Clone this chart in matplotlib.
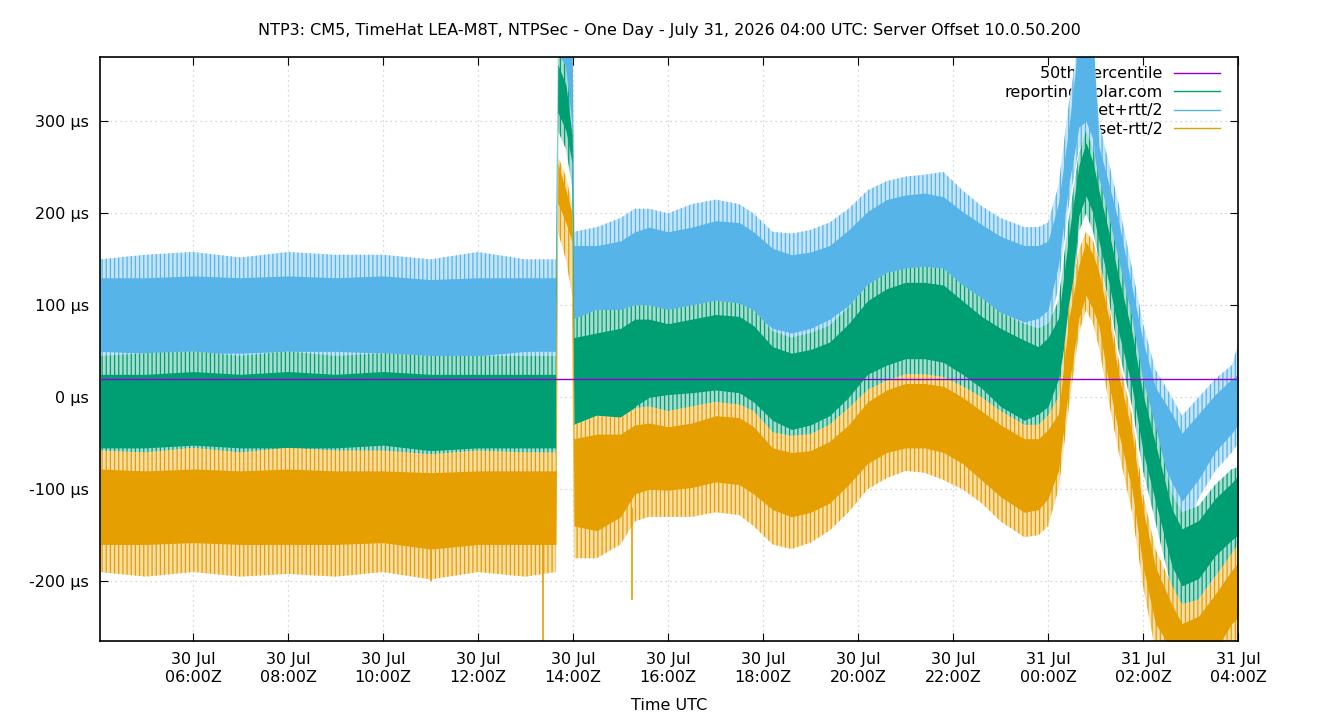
import numpy as np
import matplotlib.pyplot as plt
from matplotlib.lines import Line2D
from matplotlib.colors import to_rgb

# hours since 30 Jul 00:00 UTC
hours = [4.05, 5, 6, 7, 8, 9, 10, 11, 12, 13,
         13.64, 13.68, 13.85, 13.98,
         14.02, 14.5, 15.0, 15.3, 15.6, 16.0,
         16.5, 17.0, 17.5, 17.8, 18.2, 18.6, 19.0, 19.4, 19.8, 20.2,
         20.6, 21.0, 21.4, 21.8, 22.2, 22.6, 23.0, 23.5, 23.8, 24.0,
         24.22, 24.44, 24.65, 24.8, 24.95, 25.07, 25.28, 25.49, 25.77, 26.0,
         26.26, 26.61, 26.82, 27.17, 27.52, 27.87, 28.0]

# offset+rtt/2 (us): dense band and spike reach
plus_hi = [130, 130, 132, 130, 132, 130, 132, 128, 130, 130,
           130, 390, 390, 390,
           165, 165, 170, 180, 185, 180,
           185, 192, 190, 180, 162, 155, 158, 165, 182, 202,
           215, 220, 222, 218, 202, 188, 175, 165, 165, 170,
           211, 294, 390, 390, 390, 273, 232, 190, 119, 61,
           11, -18, -39, -18, 3, 20, 25]
plus_lo = [50, 48, 48, 48, 50, 50, 48, 42, 45, 50,
           50, 330, 320, 300,
           50, 55, 65, 85, 95, 90,
           95, 100, 100, 90, 75, 70, 75, 85, 100, 122,
           135, 140, 140, 135, 120, 105, 92, 82, 86, 95,
           144, 232, 294, 300, 280, 211, 161, 119, 44, 3,
           -55, -93, -113, -89, -59, -39, -30]
plus_max = [150, 155, 158, 152, 158, 155, 155, 150, 158, 150,
            150, 390, 390, 390,
            180, 185, 195, 205, 205, 200,
            210, 215, 210, 200, 180, 178, 182, 190, 205, 225,
            235, 240, 242, 245, 225, 208, 195, 185, 185, 190,
            230, 320, 390, 390, 390, 300, 255, 210, 140, 80,
            30, 0, -20, 0, 20, 35, 57]
plus_min = [15, 12, 18, 10, 15, 12, 12, 8, 12, 15,
            20, 300, 290, 260,
            20, 25, 30, 55, 65, 60,
            65, 70, 70, 60, 45, 40, 45, 55, 70, 95,
            108, 110, 110, 105, 90, 75, 62, 50, 55, 70,
            120, 210, 270, 280, 255, 190, 140, 95, 20, -20,
            -75, -115, -150, -110, -80, -60, -50]

# reporting.bolar.com offset (us)
off_hi = [25, 25, 28, 25, 28, 25, 28, 25, 25, 25,
          25, 362, 340, 285,
          65, 70, 75, 85, 85, 80,
          85, 90, 88, 78, 55, 48, 52, 60, 80, 105,
          118, 125, 125, 122, 105, 88, 75, 62, 55, 65,
          86, 177, 252, 277, 255, 225, 180, 130, 70, 3,
          -50, -122, -143, -134, -110, -93, -85]
off_lo = [-55, -55, -52, -55, -55, -55, -52, -58, -55, -55,
          -55, 310, 290, 255,
          -45, -40, -35, -10, 0, 3,
          5, 8, 5, -5, -25, -35, -30, -20, 0, 25,
          35, 42, 42, 38, 25, 10, -10, -25, -18, -10,
          20, 86, 198, 219, 200, 170, 125, 70, 11, -59,
          -113, -184, -205, -197, -172, -155, -150]
off_max = [45, 48, 50, 45, 50, 45, 48, 45, 45, 45,
           45, 375, 360, 300,
           85, 95, 95, 100, 100, 95,
           100, 105, 102, 95, 72, 65, 70, 78, 98, 122,
           135, 140, 142, 140, 122, 108, 92, 80, 75, 80,
           105, 195, 265, 290, 270, 240, 198, 150, 88, 20,
           -30, -105, -125, -118, -95, -78, -76]
off_min = [-80, -82, -78, -80, -82, -80, -80, -85, -82, -80,
           -75, 290, 270, 230,
           -75, -70, -65, -35, -25, -20,
           -20, -18, -20, -30, -50, -60, -55, -45, -25, 0,
           10, 15, 15, 10, 0, -15, -35, -50, -45, -35,
           0, 65, 180, 200, 180, 150, 105, 50, -10, -80,
           -135, -210, -255, -220, -195, -178, -170]

# offset-rtt/2 (us)
minus_hi = [-78, -80, -78, -80, -78, -80, -80, -82, -80, -80,
            -80, 255, 225, 200,
            -45, -40, -40, -30, -28, -32,
            -28, -20, -22, -32, -55, -60, -58, -48, -30, -5,
            8, 15, 15, 12, 0, -15, -30, -45, -45, -35,
            -18, 86, 144, 169, 155, 136, 86, 24, -39, -122,
            -184, -226, -246, -238, -214, -188, -180]
minus_lo = [-160, -160, -158, -160, -160, -160, -158, -165, -160, -160,
            -160, 211, 190, 169,
            -140, -145, -130, -105, -100, -101,
            -98, -92, -95, -105, -122, -130, -125, -115, -95, -72,
            -60, -55, -55, -60, -72, -90, -108, -125, -122, -110,
            -80, 11, 86, 111, 95, 78, 15, -39, -101, -184,
            -246, -275, -275, -275, -275, -246, -240]
minus_max = [-58, -60, -55, -60, -55, -58, -58, -62, -58, -60,
             -60, 262, 240, 210,
             -30, -20, -22, -12, -10, -15,
             -10, -5, -8, -15, -38, -42, -40, -30, -12, 8,
             18, 25, 25, 22, 12, 0, -15, -30, -30, -20,
             0, 100, 160, 180, 170, 150, 100, 40, -20, -105,
             -165, -205, -225, -220, -195, -170, -160]
minus_min = [-190, -195, -190, -195, -192, -195, -190, -198, -190, -195,
             -190, 180, 150, 110,
             -175, -175, -160, -135, -130, -130,
             -130, -125, -128, -140, -160, -165, -158, -145, -125, -100,
             -88, -80, -82, -90, -100, -115, -135, -152, -150, -140,
             -100, -10, 70, 95, 80, 55, -5, -60, -125, -205,
             -275, -275, -275, -275, -275, -275, -260]

# isolated deep dips of offset-rtt/2
dip_hours = [11.0, 13.37, 15.25]
dip_values = [-200, -275, -220]

percentile50 = 20

tick_hours = [6, 8, 10, 12, 14, 16, 18, 20, 22, 24, 26, 28]
tick_labels = ["30 Jul\n06:00Z", "30 Jul\n08:00Z", "30 Jul\n10:00Z", "30 Jul\n12:00Z",
               "30 Jul\n14:00Z", "30 Jul\n16:00Z", "30 Jul\n18:00Z", "30 Jul\n20:00Z",
               "30 Jul\n22:00Z", "31 Jul\n00:00Z", "31 Jul\n02:00Z", "31 Jul\n04:00Z"]
ytick_values = [-200, -100, 0, 100, 200, 300]

c_pct = '#9400d3'
c_off = '#009e73'
c_plus = '#56b4e9'
c_minus = '#e69f00'


def light(c, a=0.5):
    r = np.array(to_rgb(c))
    return tuple(1 - a * (1 - r))


plt.rcParams['hatch.linewidth'] = 0.9

fig = plt.figure(figsize=(13.4, 7.2), dpi=100)
ax = fig.add_axes([0.0746, 0.1097, 0.8493, 0.8111])

t = np.array(hours)
series = [(plus_min, plus_max, plus_lo, plus_hi, c_plus),
          (off_min, off_max, off_lo, off_hi, c_off),
          (minus_min, minus_max, minus_lo, minus_hi, c_minus)]
for smin, smax, lo, hi, col in series:
    ax.fill_between(t, smin, smax, facecolor=light(col, 0.35), edgecolor=col,
                    hatch='||||', lw=0, zorder=2)
    ax.fill_between(t, lo, hi, color=col, lw=0, zorder=2)

ax.vlines(dip_hours, -120, dip_values, color=c_minus, lw=1.2, zorder=2)
ax.axhline(percentile50, color=c_pct, lw=1, zorder=3)

ax.set_xlim(4.04, 28.0)
ax.set_ylim(-265, 370)
ax.set_xticks(tick_hours)
ax.set_xticklabels(tick_labels)
ax.set_yticks(ytick_values)
ax.set_yticklabels([f"{v} µs" for v in ytick_values])
ax.tick_params(direction='in', length=6, top=True, right=True, labelsize=11.5, pad=8)
ax.grid(True, color='#c8c8c8', linestyle=(0, (1, 3)), lw=0.9)
ax.set_axisbelow(True)
for s in ax.spines.values():
    s.set_linewidth(1.2)

ax.set_xlabel("Time UTC", fontsize=11.5, labelpad=10)
ax.set_title("NTP3: CM5, TimeHat LEA-M8T, NTPSec - One Day - July 31, 2026 04:00 UTC: Server Offset 10.0.50.200",
             fontsize=11.5, pad=16)

handles = [Line2D([], [], color=c_pct, lw=1), Line2D([], [], color=c_off, lw=1),
           Line2D([], [], color=c_plus, lw=1), Line2D([], [], color=c_minus, lw=1)]
labels = ["50th percentile", "reporting.bolar.com", "offset+rtt/2", "offset-rtt/2"]
leg = ax.legend(handles, labels, loc='upper right', bbox_to_anchor=(0.987, 0.9894),
                frameon=False, markerfirst=False, fontsize=11.5, handlelength=2.9,
                labelspacing=0.22, borderaxespad=0, handletextpad=0.7, borderpad=0.2)
leg.set_zorder(1)

fig.savefig("out.png", dpi=100)
